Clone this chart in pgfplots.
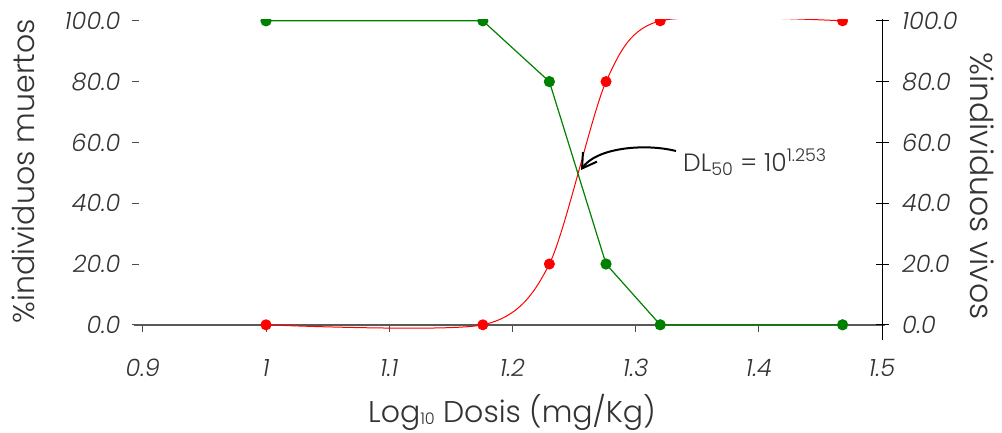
\documentclass[border=0pt]{standalone}
\usepackage{pgfplots}
\usepackage{pgfplotstable}
\pgfplotsset{compat=1.18}
\usepackage{fontspec}
\setmainfont{Poppins}[UprightFont={* Light}, ItalicFont={* Light Italic}]
\usetikzlibrary{arrows.meta}
\definecolor{dgreen}{RGB}{0,128,0}
\definecolor{txt}{RGB}{51,51,51}
\pgfplotstableread{
x muertos vivos
1.000 0 100
1.176 0 100
1.230 20 80
1.276 80 20
1.320 100 0
1.468 100 0
}\datatable
\begin{document}
\begin{tikzpicture}[x=1pt,y=1pt]
\useasboundingbox (-139,-92) rectangle (863,340);
\begin{axis}[
  at={(0,0)}, anchor=south west,
  scale only axis, width=743pt, height=321pt,
  xmin=0.8969, xmax=1.5, ymin=-5, ymax=100.6,
  axis x line=middle, axis y line=left,
  axis line style={-},
  x axis line style={draw=black!65, line width=1.5pt, shorten <=-5pt, shorten >=-3pt},
  y axis line style={draw=none},
  xtick={0.9,1,1.1,1.2,1.3,1.4,1.5},
  xticklabels={0.9,1,1.1,1.2,1.3,1.4,1.5},
  ytick={0,20,40,60,80,100},
  tick align=outside,
  major tick length=7pt,
  every tick/.style={black!70, line width=1pt},
  /pgf/number format/assume math mode=true,
  ticklabel style={font=\fontsize{24}{24}\selectfont\itshape, text=txt},
  yticklabel style={/pgf/number format/.cd, fixed, fixed zerofill, precision=1, /tikz/.cd, xshift=-8pt},
  xticklabel style={yshift=-24pt},
  clip marker paths=true,
]
\addplot[red, line width=1pt, smooth, tension=0.45, mark=*, mark size=5pt, mark options={solid, fill=red, draw=red}] table[x=x, y=muertos] {\datatable};
\addplot[dgreen, line width=1.2pt, mark=*, mark size=5pt, mark options={solid, fill=dgreen, draw=dgreen}] table[x=x, y=vivos] {\datatable};
\end{axis}
\begin{axis}[
  at={(0,0)}, anchor=south west,
  scale only axis, width=743pt, height=321pt,
  xmin=0.8969, xmax=1.5, ymin=-5, ymax=100.6,
  axis x line=none, axis y line*=right,
  axis line style={-},
  y axis line style={draw=black, line width=1pt},
  ytick={0,20,40,60,80,100},
  tick align=center,
  major tick length=13pt,
  every tick/.style={black, line width=1pt},
  /pgf/number format/assume math mode=true,
  ticklabel style={font=\fontsize{24}{24}\selectfont\itshape, text=txt},
  yticklabel style={/pgf/number format/.cd, fixed, fixed zerofill, precision=1, /tikz/.cd, xshift=10pt},
]
\addplot[draw=none] coordinates {(1,0)};
\end{axis}
\node[rotate=90, text=txt, font=\fontsize{30}{30}\selectfont] at (-116,169) {\%individuos muertos};
\node[rotate=-90, text=txt, font=\fontsize{31.5}{31.5}\selectfont] at (843,154) {\%individuos vivos};
\node[anchor=base, text=txt, font=\fontsize{30}{30}\selectfont] at (373,-82) {Log\raisebox{-2pt}{\fontsize{16}{16}\selectfont 10} Dosis (mg/Kg)};
\node[anchor=base west, inner sep=0pt, text=txt, font=\fontsize{25}{25}\selectfont] at (544,169) {DL\textsubscript{50} = 10\textsuperscript{1.253}};
\draw[line width=2pt, -{Straight Barb[length=14pt, width=17pt]}] (537,189) .. controls (505,197) and (457,192) .. (442,170);
\end{tikzpicture}
\end{document}
